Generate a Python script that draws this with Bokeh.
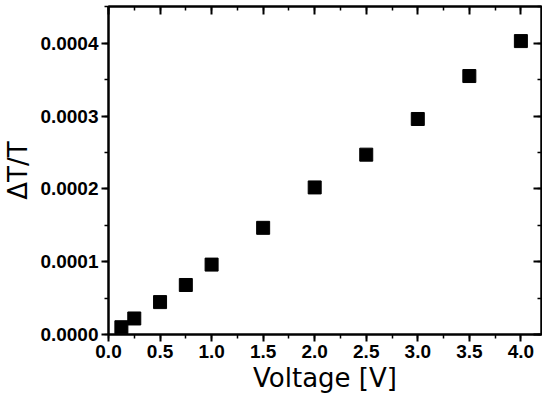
from bokeh.plotting import figure
from bokeh.models import LinearAxis, PrintfTickFormatter, Range1d, SingleIntervalTicker, CustomJSTickFormatter
from bokeh.embed import file_html
from bokeh.resources import INLINE

voltage = [0.125, 0.25, 0.5, 0.75, 1.0, 1.5, 2.0, 2.5, 3.0, 3.5, 4.0]
dt_over_t = [1.0e-5, 2.2e-5, 4.45e-5, 6.8e-5, 9.6e-5, 1.465e-4, 2.02e-4, 2.47e-4, 2.96e-4, 3.55e-4, 4.03e-4]

p = figure(
    width=542, height=400,
    x_range=Range1d(0, 4.2), y_range=Range1d(0, 0.0004505),
    output_backend="svg", toolbar_location=None,
    min_border_left=108, min_border_right=1, min_border_top=6, min_border_bottom=66,
    x_axis_label="Voltage [V]", y_axis_label="ΔT/T",
)
p.background_fill_color = "white"
p.border_fill_color = "white"
p.grid.visible = False
p.outline_line_color = "black"
p.outline_line_width = 2

p.scatter(voltage, dt_over_t, marker="square", size=13, fill_color="black", line_color="black")

def style(ax, ticker, labels=True, inward=False):
    ax.ticker = ticker
    ax.axis_line_width = 2
    ax.axis_line_color = "black"
    ax.major_tick_line_width = 2
    ax.minor_tick_line_width = 1.5
    ax.major_tick_line_color = "black"
    ax.minor_tick_line_color = "black"
    if inward:
        ax.major_tick_in = 8
        ax.major_tick_out = 0
        ax.minor_tick_in = 4
        ax.minor_tick_out = 0
    else:
        ax.major_tick_in = 0
        ax.major_tick_out = 7
        ax.minor_tick_in = 0
        ax.minor_tick_out = 4
    if labels:
        ax.major_label_text_font = "Liberation Sans"
        ax.major_label_text_font_style = "bold"
        ax.major_label_text_font_size = "19px"
        ax.major_label_text_color = "black"
        ax.axis_label_text_font = "DejaVu Sans"
        ax.axis_label_text_font_style = "normal"
        ax.axis_label_text_font_size = "26px"
        ax.axis_label_text_color = "black"
        ax.major_label_standoff = 3
        ax.axis_label_standoff = 2
    else:
        ax.formatter = CustomJSTickFormatter(code="return '';")
        ax.major_label_text_font_size = "0px"
        ax.major_label_standoff = 0
        ax.axis_label_standoff = 0

style(p.xaxis[0], SingleIntervalTicker(interval=0.5, num_minor_ticks=2))
p.xaxis[0].formatter = PrintfTickFormatter(format="%.1f")
style(p.yaxis[0], SingleIntervalTicker(interval=0.0001, num_minor_ticks=2))
p.yaxis[0].formatter = PrintfTickFormatter(format="%.4f")
p.yaxis[0].axis_label_standoff = 4

top = LinearAxis()
style(top, SingleIntervalTicker(interval=0.5, num_minor_ticks=2), labels=False, inward=True)
p.add_layout(top, "above")
right = LinearAxis()
style(right, SingleIntervalTicker(interval=0.0001, num_minor_ticks=2), labels=False, inward=True)
p.add_layout(right, "right")

open("out.html", "w").write(file_html(p, INLINE))
